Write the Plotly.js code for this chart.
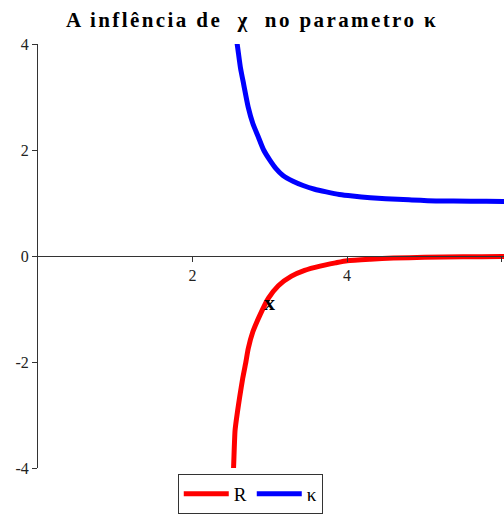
<!DOCTYPE html>
<html>
<head>
<meta charset="utf-8">
<script src="https://cdn.plot.ly/plotly-3.0.1.min.js"></script>
<style>html,body{margin:0;padding:0;background:#fff;}#chart{width:504px;height:514px;}
.gtitle{letter-spacing:2.4px;}</style>
</head>
<body>
<div id="chart"></div>
<script>
// R curve
const rX = [2.525, 2.53, 2.55, 2.58, 2.61, 2.65, 2.69, 2.72, 2.78, 2.87, 2.98, 3.11, 3.28, 3.45, 3.65, 3.85, 4.0, 4.3, 4.6, 5.0, 5.5, 6.0, 6.1];
const rY = [-4.1, -4.01, -3.29, -2.95, -2.66, -2.30, -2.0, -1.75, -1.43, -1.12, -0.80, -0.56, -0.38, -0.27, -0.19, -0.13, -0.09, -0.06, -0.04, -0.025, -0.015, -0.01, -0.01];
// kappa curve
const kX = [2.55, 2.57, 2.62, 2.66, 2.72, 2.78, 2.85, 2.92, 3.0, 3.08, 3.17, 3.30, 3.43, 3.58, 3.73, 3.90, 4.07, 4.30, 4.5, 4.80, 5.15, 5.6, 6.02, 6.1];
const kY = [4.2, 4.07, 3.55, 3.25, 2.81, 2.50, 2.25, 2.00, 1.81, 1.65, 1.52, 1.41, 1.33, 1.26, 1.21, 1.16, 1.13, 1.10, 1.08, 1.06, 1.04, 1.035, 1.03, 1.03];
const seriesNames = ['R', 'κ'];
const xTicks = [2, 4, 6];
const yTicks = [-4, -2, 0, 2, 4];
const titleText = 'A inflência de  χ  no parametro κ';
const axisLabel = 'x';
const labelPos = [3.0, -0.87];

const serif = 'Liberation Serif, Times New Roman, serif';
const traces = [
  {x: rX, y: rY, mode: 'lines', name: seriesNames[0], line: {color: '#ff0000', width: 5, shape: 'spline', smoothing: 0.6}},
  {x: kX, y: kY, mode: 'lines', name: seriesNames[1], line: {color: '#0000ff', width: 5, shape: 'spline', smoothing: 0.6}}
];
const layout = {
  width: 504, height: 514,
  margin: {l: 37.5, r: 0, t: 44, b: 46, pad: 0},
  paper_bgcolor: '#fff', plot_bgcolor: '#fff',
  title: {text: '<b>' + titleText + '</b>', font: {family: serif, size: 21, color: '#000'}, x: 0.5, xanchor: 'center', y: 0.962, yanchor: 'middle'},
  xaxis: {range: [0, 6.03], anchor: 'free', position: 0.5, showline: true, linecolor: '#333', linewidth: 1,
    ticks: 'outside', ticklen: 5, tickcolor: '#333', tickvals: xTicks, ticktext: xTicks.map(String),
    showgrid: false, zeroline: false, tickfont: {family: serif, size: 16, color: '#222'}},
  yaxis: {range: [-4, 4], showline: true, linecolor: '#333', linewidth: 1,
    ticks: 'outside', ticklen: 5, tickcolor: '#333', tickvals: yTicks, ticktext: yTicks.map(String),
    showgrid: false, zeroline: false, tickfont: {family: serif, size: 16, color: '#222'}},
  showlegend: true,
  legend: {orientation: 'h', x: 0.4555, xanchor: 'center', yref: 'container', y: 0, yanchor: 'bottom',
    itemwidth: 45, bordercolor: '#333', borderwidth: 1, font: {family: serif, size: 19, color: '#000'}, bgcolor: '#fff'},
  annotations: [{x: labelPos[0], y: labelPos[1], xref: 'x', yref: 'y', text: '<b>' + axisLabel + '</b>', showarrow: false,
    font: {family: serif, size: 22, color: '#000'}}]
};
Plotly.newPlot('chart', traces, layout, {displayModeBar: false, staticPlot: true});
</script>
</body>
</html>
